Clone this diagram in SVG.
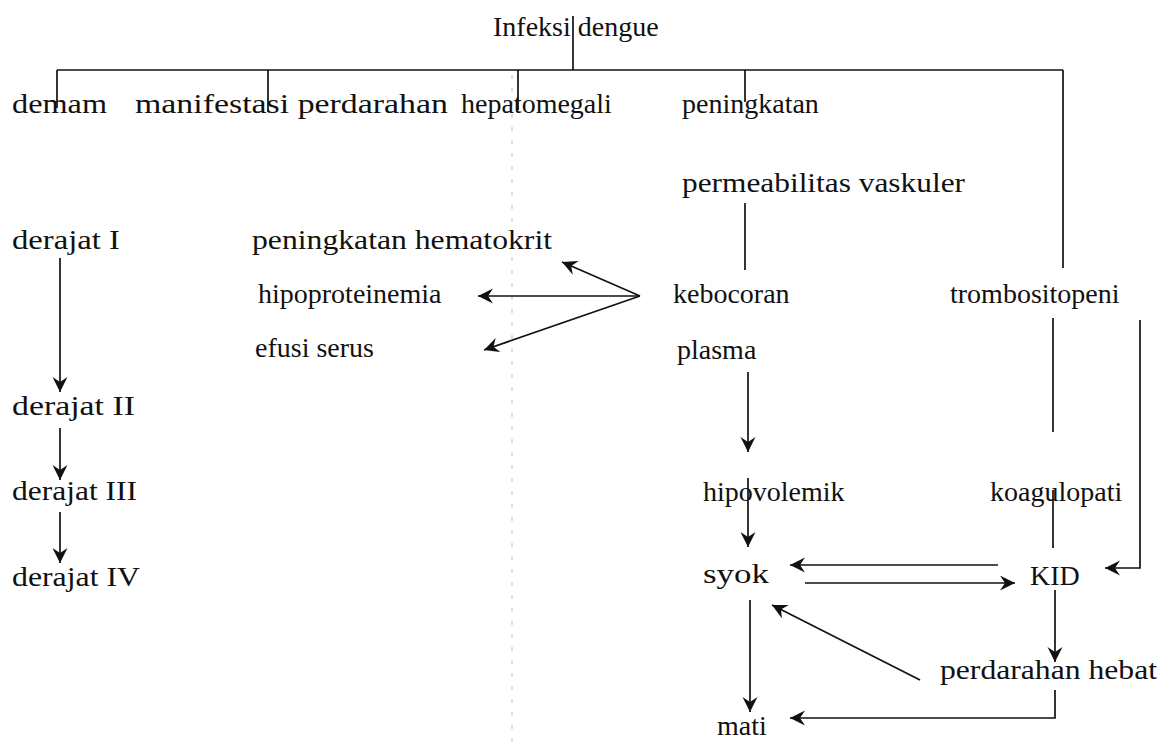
<svg xmlns="http://www.w3.org/2000/svg" width="1162" height="746" viewBox="0 0 1162 746">
<defs>
<marker id="ah" markerWidth="16" markerHeight="16" refX="15" refY="7.5" orient="auto" markerUnits="userSpaceOnUse">
<path d="M0,0 L15,7.5 L0,15 L5,7.5 z" fill="#111"/>
</marker>
<style>
text{font-family:"Liberation Serif","Times New Roman",serif;font-size:28px;fill:#111}
.c line,.c polyline{stroke:#111;stroke-width:1.7;fill:none}
.a{marker-end:url(#ah)}
</style>
</defs>
<rect width="1162" height="746" fill="#fff"/>
<g id="scan-artifact"><line x1="512" y1="75" x2="512" y2="746" stroke="#bbb" stroke-width="1" stroke-dasharray="4 9"/></g>
<g class="c" id="connectors">
<line x1="573" y1="16" x2="573" y2="70"/>
<line x1="57" y1="70" x2="1063" y2="70"/>
<line x1="57" y1="70" x2="57" y2="108"/>
<line x1="268" y1="70" x2="268" y2="112"/>
<line x1="518" y1="70" x2="518" y2="110"/>
<line x1="745" y1="70" x2="745" y2="102"/>
<line x1="1063" y1="70" x2="1063" y2="268"/>
<line x1="745" y1="203" x2="745" y2="270"/>
<line class="a" x1="60" y1="258" x2="60" y2="392"/>
<line class="a" x1="60" y1="428" x2="60" y2="480"/>
<line class="a" x1="60" y1="512" x2="60" y2="563"/>
<line class="a" x1="640" y1="296" x2="562" y2="262"/>
<line class="a" x1="640" y1="296" x2="478" y2="296"/>
<line class="a" x1="640" y1="296" x2="484" y2="350"/>
<line class="a" x1="748" y1="372" x2="748" y2="452"/>
<line class="a" x1="748" y1="478" x2="748" y2="547"/>
<line class="a" x1="750" y1="600" x2="750" y2="712"/>
<line class="a" x1="998" y1="565" x2="790" y2="565"/>
<line class="a" x1="805" y1="583" x2="1015" y2="583"/>
<line class="a" x1="920" y1="680" x2="772" y2="605"/>
<line x1="1053" y1="318" x2="1053" y2="432"/>
<line x1="1053" y1="490" x2="1053" y2="548"/>
<line class="a" x1="1055" y1="590" x2="1055" y2="662"/>
<polyline class="a" points="1140,320 1140,568 1105,568"/>
<polyline class="a" points="1055,690 1055,718 790,718"/>
</g>
<g id="n-infeksi"><text x="493" y="36">Infeksi dengue</text></g>
<g id="n-demam"><text x="12" y="113" textLength="95" lengthAdjust="spacingAndGlyphs">demam</text></g>
<g id="n-manifestasi"><text x="135" y="113" textLength="313" lengthAdjust="spacingAndGlyphs">manifestasi perdarahan</text></g>
<g id="n-hepatomegali"><text x="461" y="113">hepatomegali</text></g>
<g id="n-peningkatan"><text x="682" y="113">peningkatan</text><text x="682" y="192" textLength="283" lengthAdjust="spacingAndGlyphs">permeabilitas vaskuler</text></g>
<g id="n-derajat1"><text x="12" y="249" textLength="108" lengthAdjust="spacingAndGlyphs">derajat I</text></g>
<g id="n-derajat2"><text x="12" y="415" textLength="123" lengthAdjust="spacingAndGlyphs">derajat II</text></g>
<g id="n-derajat3"><text x="12" y="500" textLength="125" lengthAdjust="spacingAndGlyphs">derajat III</text></g>
<g id="n-derajat4"><text x="12" y="586" textLength="128" lengthAdjust="spacingAndGlyphs">derajat IV</text></g>
<g id="n-hematokrit"><text x="252" y="249" textLength="300" lengthAdjust="spacingAndGlyphs">peningkatan hematokrit</text></g>
<g id="n-hipoproteinemia"><text x="258" y="303">hipoproteinemia</text></g>
<g id="n-efusi"><text x="255" y="357">efusi serus</text></g>
<g id="n-kebocoran"><text x="673" y="303">kebocoran</text><text x="677" y="359">plasma</text></g>
<g id="n-trombositopeni"><text x="950" y="303">trombositopeni</text></g>
<g id="n-hipovolemik"><text x="703" y="501">hipovolemik</text></g>
<g id="n-koagulopati"><text x="990" y="501">koagulopati</text></g>
<g id="n-syok"><text x="703" y="583" textLength="66" lengthAdjust="spacingAndGlyphs">syok</text></g>
<g id="n-kid"><text x="1030" y="585">KID</text></g>
<g id="n-perdarahan"><text x="940" y="679" textLength="217" lengthAdjust="spacingAndGlyphs">perdarahan hebat</text></g>
<g id="n-mati"><text x="717" y="735">mati</text></g>
</svg>
